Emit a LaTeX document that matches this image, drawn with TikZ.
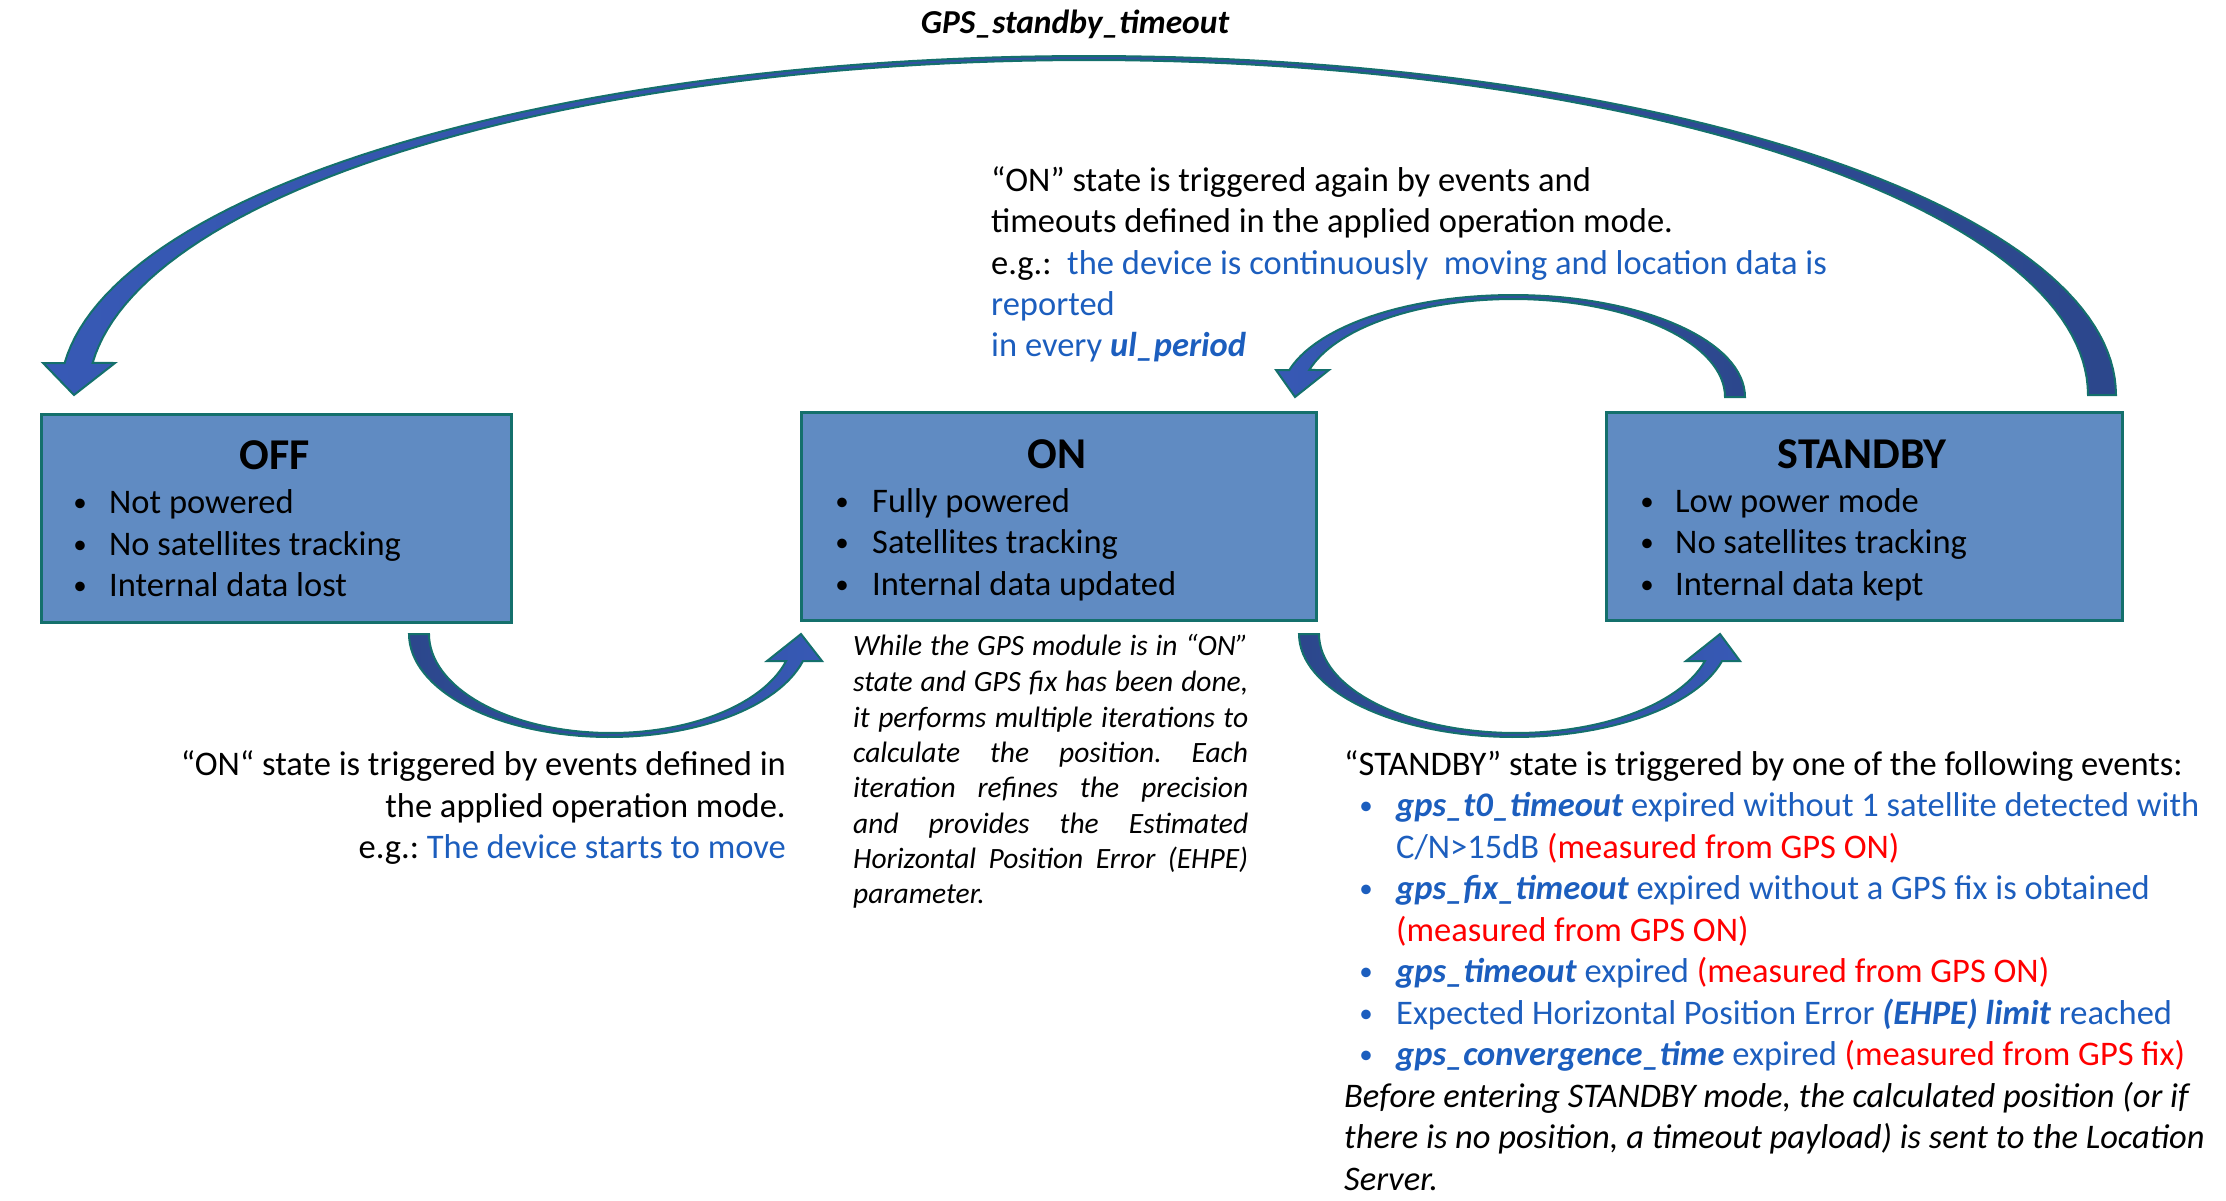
\documentclass[tikz,border=0pt]{standalone}
\usepackage{fontspec}
\setmainfont{Carlito}
\frenchspacing
\definecolor{boxfill}{HTML}{608BC2}
\definecolor{tealline}{HTML}{14706C}
\definecolor{arrdark}{HTML}{2C478C}
\definecolor{arrlight}{HTML}{3759B5}
\definecolor{tblue}{HTML}{1C5EBE}
\definecolor{tred}{HTML}{FF0000}
\begin{document}
\begin{tikzpicture}[x=1pt,y=-1pt,
  statebox/.style={draw=tealline, fill=boxfill, line width=2.5pt, inner sep=0pt, anchor=north west},
  ln/.style={inner sep=0pt, anchor=base west, font=\fontsize{34.5}{41.5}\selectfont},
  lnr/.style={ln, anchor=base east},
  dot/.style={inner sep=0pt, anchor=base, font=\fontsize{27}{32}\selectfont},
  ttl/.style={inner sep=0pt, anchor=base, font=\fontsize{44}{52}\selectfont\bfseries},
  para/.style={inner sep=0pt, anchor=base west, font=\fontsize{29.5}{35.5}\selectfont\itshape},
  blockarrow/.style={draw=tealline, line width=2pt, line join=miter}
]
\useasboundingbox (0,0) rectangle (2226,1200);

% ---------- state boxes ----------
\node[statebox, minimum width=470pt, minimum height=208pt] (off) at (40,413) {};
\node[statebox, minimum width=515pt, minimum height=208pt] (on) at (800,411) {};
\node[statebox, minimum width=516pt, minimum height=208pt] (stby) at (1605,411) {};

\node[ttl] (offT) at (275,469) {OFF};
\node[dot] (offd1) at (80,511) {•};
\node[ln] (offb1) at (109,513) {Not powered};
\node[dot] (offd2) at (80,553) {•};
\node[ln] (offb2) at (109,555) {No satellites tracking};
\node[dot] (offd3) at (80,594) {•};
\node[ln] (offb3) at (109,596) {Internal data lost};

\node[ttl] (onT) at (1057,468) {ON};
\node[dot] (ond1) at (842,510) {•};
\node[ln] (onb1) at (872,512) {Fully powered};
\node[dot] (ond2) at (842,551) {•};
\node[ln] (onb2) at (872,553) {Satellites tracking};
\node[dot] (ond3) at (842,593) {•};
\node[ln] (onb3) at (872,595) {Internal data updated};

\node[ttl] (stT) at (1862,468) {STANDBY};
\node[dot] (std1) at (1647,510) {•};
\node[ln] (stb1) at (1675,512) {Low power mode};
\node[dot] (std2) at (1647,551) {•};
\node[ln] (stb2) at (1675,553) {No satellites tracking};
\node[dot] (std3) at (1647,593) {•};
\node[ln] (stb3) at (1675,595) {Internal data kept};

% ---------- curved block arrows ----------
% STANDBY -> OFF (big)
\path[blockarrow, left color=arrlight, right color=arrdark]
  plot[domain=0:-174.6, samples=120, variable=\t] ({1088+1028*cos(\t)},{395+339*sin(\t)})
  -- (43,363) -- (74,395) -- (115,363)
  -- plot[domain=-174.5:0, samples=120, variable=\t] ({1088+1000*cos(\t)},{395+335*sin(\t)})
  -- cycle;
% STANDBY -> ON (small top)
\path[blockarrow, left color=arrlight, right color=arrdark]
  plot[domain=0:-164.65, samples=60, variable=\t] ({1513+232*cos(\t)},{397+102*sin(\t)})
  -- (1276,370) -- (1295,397) -- (1329,370)
  -- plot[domain=-164.0:0, samples=60, variable=\t] ({1513+212*cos(\t)},{397+98*sin(\t)})
  -- cycle;
% OFF -> ON
\path[blockarrow, left color=arrdark, right color=arrlight]
  plot[domain=180:15.2, samples=60, variable=\t] ({609.5+200.5*cos(\t)},{634+103*sin(\t)})
  -- (822,661) -- (801,634) -- (767,661)
  -- plot[domain=15.83:180, samples=60, variable=\t] ({611+182*cos(\t)},{634+99*sin(\t)})
  -- cycle;
% ON -> STANDBY
\path[blockarrow, left color=arrdark, right color=arrlight]
  plot[domain=180:15.2, samples=60, variable=\t] ({1514.3+215.3*cos(\t)},{634+103*sin(\t)})
  -- (1740,661) -- (1720,634) -- (1686,661)
  -- plot[domain=15.83:180, samples=60, variable=\t] ({1515.7+196.7*cos(\t)},{634+99*sin(\t)})
  -- cycle;

% ---------- labels ----------
\node[inner sep=0pt, anchor=base, font=\fontsize{33.5}{40}\selectfont\bfseries\itshape] (lblTop) at (1075,33) {GPS\_standby\_timeout};

\node[ln] (tm1) at (991,191) {“ON” state is triggered again by events and};
\node[ln] (tm2) at (991,232) {timeouts defined in the applied operation mode.};
\node[ln] (tm3) at (991,274) {e.g.:\ \ \textcolor{tblue}{the device is continuously\ \ moving and location data is}};
\node[ln, text=tblue] (tm4) at (991,315) {reported};
\node[ln, text=tblue] (tm5) at (991,356) {in every \textbf{\textit{ul\_period}}};

\node[lnr] (ll1) at (786,775) {“ON“ state is triggered by events defined in};
\node[lnr] (ll2) at (786,817) {the applied operation mode.};
\node[lnr] (ll3) at (786,858) {e.g.: \textcolor{tblue}{The device starts to move}};

\node[para] (p1) at (853,655) {\makebox[395pt][s]{While the GPS module is in “ON”}};
\node[para] (p2) at (853,691) {\makebox[395pt][s]{state and GPS fix has been done,}};
\node[para] (p3) at (853,727) {\makebox[395pt][s]{it performs multiple iterations to}};
\node[para] (p4) at (853,762) {\makebox[395pt][s]{calculate the position. Each}};
\node[para] (p5) at (853,797) {\makebox[395pt][s]{iteration refines the precision}};
\node[para] (p6) at (853,833) {\makebox[395pt][s]{and provides the Estimated}};
\node[para] (p7) at (853,868) {\makebox[395pt][s]{Horizontal Position Error (EHPE)}};
\node[para] (p8) at (853,903) {parameter.};

\node[ln] (r0) at (1344,775) {“STANDBY” state is triggered by one of the following events:};
\node[dot, text=tblue] (rd1) at (1366,814.5) {•};
\node[ln, text=tblue] (r1) at (1396,816.5) {\textbf{\textit{gps\_t0\_timeout}} expired without 1 satellite detected with};
\node[ln, text=tblue] (r1b) at (1396,858) {C/N>15dB \textcolor{tred}{(measured from GPS ON)}};
\node[dot, text=tblue] (rd2) at (1366,897.5) {•};
\node[ln, text=tblue] (r2) at (1396,899.5) {\textbf{\textit{gps\_fix\_timeout}} expired without a GPS fix is obtained};
\node[ln, text=tred] (r2b) at (1396,941) {(measured from GPS ON)};
\node[dot, text=tblue] (rd3) at (1366,980.5) {•};
\node[ln, text=tblue] (r3) at (1396,982.5) {\textbf{\textit{gps\_timeout}} expired \textcolor{tred}{(measured from GPS ON)}};
\node[dot, text=tblue] (rd4) at (1366,1022) {•};
\node[ln, text=tblue] (r4) at (1396,1024) {Expected Horizontal Position Error \textbf{\textit{(EHPE) limit}} reached};
\node[dot, text=tblue] (rd5) at (1366,1063.5) {•};
\node[ln, text=tblue] (r5) at (1396,1065.5) {\textbf{\textit{gps\_convergence\_time}} expired \textcolor{tred}{(measured from GPS fix)}};
\node[ln, font=\fontsize{34.5}{41.5}\selectfont\itshape] (r6) at (1344,1107) {Before entering STANDBY mode, the calculated position (or if};
\node[ln, font=\fontsize{34.5}{41.5}\selectfont\itshape] (r7) at (1344,1148.5) {there is no position, a timeout payload) is sent to the Location};
\node[ln, font=\fontsize{34.5}{41.5}\selectfont\itshape] (r8) at (1344,1190) {Server.};
\end{tikzpicture}
\end{document}
